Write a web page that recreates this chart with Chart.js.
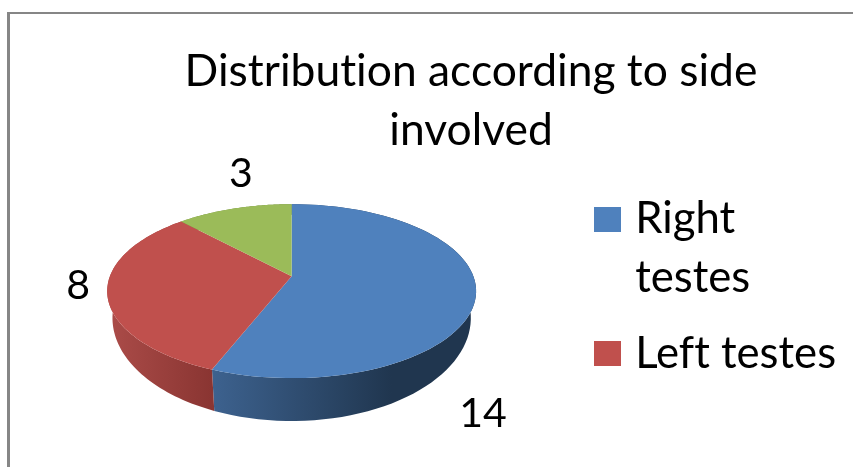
<!DOCTYPE html>
<html>
<head>
<meta charset="utf-8">
<title>Distribution according to side involved</title>
<script src="https://cdn.jsdelivr.net/npm/chart.js@4"></script>
<style>
    html, body { margin: 0; padding: 0; background: #fff; overflow: hidden; }
    #holder { position: relative; width: 853px; height: 467px; }
    #frame { position: absolute; left: 7px; top: 12px; right: 0; bottom: 0; border-left: 3px solid #868686; border-top: 2px solid #868686; pointer-events: none; }
</style>
</head>
<body>
<div id="holder">
    <canvas id="sideChart" width="853" height="467"></canvas>
    <div id="frame"></div>
</div>
<script>
var titleLines = ['Distribution according to side', 'involved'];
var sideLabels = [['Right', 'testes'], 'Left testes', ''];
var sideCounts = [14, 8, 3];

var fontName = 'Lato, Carlito, sans-serif';
var topColors = ['#4f81bd', '#c0504d', '#9bbb59'];
var wallColors = [['#3d628f', '#20364f'], ['#aa4b48', '#8a3532'], ['#7d9a46', '#5f7635']];

// perspective of the pie, the front of the disc is nearer so it looks bigger
var tilt = 0.1724;
var topRadiusX = 181.7, topRadiusY = 84.4;
var baseRadiusX = 176.5, baseRadiusY = 100, baseDrop = 24;
var labelShift = [[7, 121], [-29, -7], [7, -35]];
var titleShift = 48.5, legendShiftY = 90;

function project(angle, cx, cy, rx, ry) {
    var den = 1 - tilt * Math.sin(angle);
    return [cx + rx * Math.cos(angle) / den, cy + ry * Math.sin(angle) / den];
}

function traceEdge(ctx, arc, reverse, cy, rx, ry) {
    var steps = 80;
    for (var i = 0; i <= steps; i++) {
        var t = reverse ? 1 - i / steps : i / steps;
        var p = project(arc.startAngle + (arc.endAngle - arc.startAngle) * t, arc.x, cy, rx, ry);
        ctx.lineTo(p[0], p[1]);
    }
}

// legend square as a small canvas, a plain legend box sits too far from its text
function makeSwatch(color) {
    var swatch = document.createElement('canvas');
    swatch.width = 27;
    swatch.height = 25;
    var c = swatch.getContext('2d');
    c.fillStyle = color;
    c.fillRect(0, 0, 27, 25);
    return swatch;
}

var pie3d = {
    id: 'pie3d',
    afterLayout: function (chart) {
        // the title is centred on the whole frame, not on what the legend leaves
        chart.titleBlock.left += titleShift;
        chart.titleBlock.right += titleShift;
        chart.legend.top += legendShiftY;
        chart.legend.bottom += legendShiftY;
    },
    beforeDraw: function (chart) {
        // no ligatures, the original font does not join "ti" or "ft"
        chart.ctx.textRendering = 'optimizeSpeed';
    },
    beforeDatasetDraw: function (chart, args) {
        var ctx = chart.ctx;
        var arcs = chart.getDatasetMeta(args.index).data;

        // side walls first, the top of the disc covers what is behind
        arcs.forEach(function (arc, i) {
            var grad = ctx.createLinearGradient(arc.x - 180, 0, arc.x + 120, 0);
            if (i == 1) {
                grad = ctx.createLinearGradient(arc.x - 180, 0, arc.x - 80, 0);
            } else if (i == 0) {
                grad = ctx.createLinearGradient(arc.x - 80, 0, arc.x + 100, 0);
            }
            grad.addColorStop(0, wallColors[i][0]);
            grad.addColorStop(1, wallColors[i][1]);
            ctx.fillStyle = grad;
            ctx.beginPath();
            traceEdge(ctx, arc, false, arc.y, topRadiusX, topRadiusY);
            traceEdge(ctx, arc, true, arc.y + baseDrop, baseRadiusX, baseRadiusY);
            ctx.closePath();
            ctx.fill();
        });

        arcs.forEach(function (arc, i) {
            ctx.fillStyle = topColors[i];
            ctx.beginPath();
            ctx.moveTo(arc.x, arc.y);
            traceEdge(ctx, arc, false, arc.y, topRadiusX, topRadiusY);
            ctx.closePath();
            ctx.fill();
        });

        // value labels
        ctx.fillStyle = '#000';
        ctx.font = '41px ' + fontName;
        ctx.textAlign = 'center';
        ctx.textBaseline = 'middle';
        arcs.forEach(function (arc, i) {
            var p = project((arc.startAngle + arc.endAngle) / 2, arc.x, arc.y, topRadiusX, topRadiusY);
            ctx.fillText(String(sideCounts[i]), p[0] + labelShift[i][0], p[1] + labelShift[i][1]);
        });
        return false;
    }
};

var sideChart = new Chart(document.getElementById('sideChart'), {
    type: 'pie',
    data: {
        labels: sideLabels,
        datasets: [{ data: sideCounts, backgroundColor: topColors, borderWidth: 0 }]
    },
    options: {
        responsive: false,
        animation: false,
        layout: { padding: { bottom: 74, right: 8 } },
        plugins: {
            title: {
                display: true,
                text: titleLines,
                color: '#000',
                font: { family: fontName, size: 44.4, weight: 'normal', lineHeight: 1.31 },
                padding: { top: 43, bottom: 0 }
            },
            legend: {
                position: 'right',
                labels: {
                    color: '#000',
                    usePointStyle: true,
                    pointStyleWidth: 12,
                    boxHeight: 26,
                    padding: 18,
                    font: { family: fontName, size: 43.7, lineHeight: 1.33 },
                    generateLabels: function (chart) {
                        var items = Chart.overrides.pie.plugins.legend.labels.generateLabels(chart);
                        items.forEach(function (item, i) {
                            item.pointStyle = makeSwatch(topColors[i]);
                        });
                        return items;
                    },
                    filter: function (item) { return item.text !== ''; }
                }
            },
            tooltip: { enabled: false }
        }
    },
    plugins: [pie3d]
});
</script>
</body>
</html>
